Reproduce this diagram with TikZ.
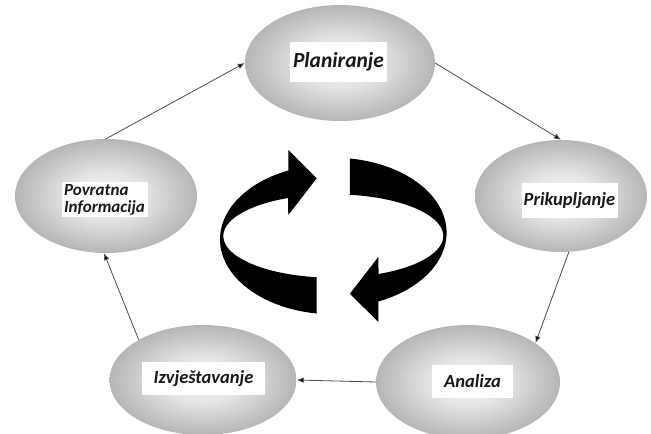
\documentclass[tikz,border=0pt]{standalone}
\usepackage{fontspec}
\setmainfont{Carlito}
\usetikzlibrary{shapes.geometric,arrows.meta}
\pgfdeclareradialshading{ellshade}{\pgfpoint{0bp}{0bp}}{color(0bp)=(white!97!black); color(10bp)=(white!90!black); color(50bp)=(black!60)}
\tikzset{
  stage/.style={ellipse, shading=ellshade, draw=none, inner sep=0pt},
  lab/.style={fill=white, inner sep=0pt, font=\bfseries\itshape\fontsize{18.5}{19}\selectfont, text=black!90},
  conn/.style={draw=black!70, line width=0.8pt, -{Latex[length=7pt,width=5.5pt,fill=black]}},
  halfring/.style={fill=black},
}
\begin{document}
\begin{tikzpicture}[x=1pt,y=-1pt]
\useasboundingbox (0,0) rectangle (651,434);
% stage ellipses
\node[stage, minimum width=190pt, minimum height=116pt] (plan) at (340,63) {};
\node[stage, minimum width=172pt, minimum height=112pt] (prik) at (561,196) {};
\node[stage, minimum width=182pt, minimum height=114pt] (pov) at (106,196) {};
\node[stage, minimum width=187pt, minimum height=110pt] (izv) at (203,380) {};
\node[stage, minimum width=184pt, minimum height=114pt] (anal) at (468,382) {};
% labels
\node[lab, minimum width=97pt, minimum height=40pt, font=\bfseries\itshape\fontsize{21.5}{22}\selectfont] (tplan) at (338.5,62) {Planiranje};
\node[lab, minimum width=96pt, minimum height=35pt] (tprik) at (569.5,200.5) {Prikupljanje};
\node[lab, minimum width=86pt, minimum height=35pt, align=left, font=\bfseries\itshape\fontsize{17}{17}\selectfont] (tpov) at (104.5,199.5) {Povratna\\Informacija};
\node[lab, minimum width=123pt, minimum height=33pt] (tizv) at (203.5,378.5) {Izvještavanje};
\node[lab, minimum width=81pt, minimum height=33pt] (tanal) at (472.5,381.5) {Analiza};
% connectors
\draw[conn] (pov.north) -- (plan.west);
\draw[conn] (plan.east) -- (prik.north);
\draw[conn] (prik.-82) -- (anal.30);
\draw[conn] (anal.west) -- (izv.east);
\draw[conn] (izv.148) -- (pov.-92);
% central cycle arrows
\fill[halfring] (288.3,170.6) -- (288.3,150) -- (316.7,178.3) -- (288.3,215) -- (288.0,198.0)
  arc[start angle=245.7, end angle=98.7, x radius=110, y radius=41.7]
  -- (316.75,313.5)
  arc[start angle=98.4, end angle=246.4, x radius=113.3, y radius=75] -- cycle;
\begin{scope}[rotate around={180:(333.3,236)}]
\fill[halfring] (288.3,170.6) -- (288.3,150) -- (316.7,178.3) -- (288.3,215) -- (288.0,198.0)
  arc[start angle=245.7, end angle=98.7, x radius=110, y radius=41.7]
  -- (316.75,313.5)
  arc[start angle=98.4, end angle=246.4, x radius=113.3, y radius=75] -- cycle;
\end{scope}
\end{tikzpicture}
\end{document}
